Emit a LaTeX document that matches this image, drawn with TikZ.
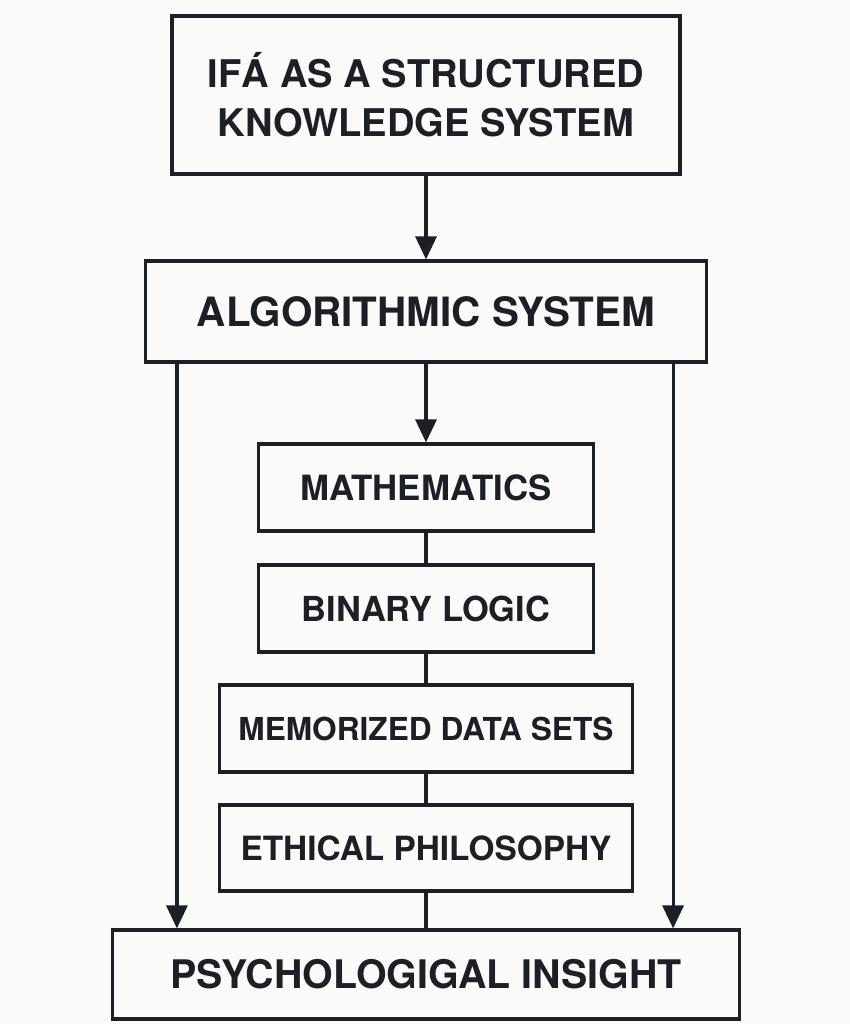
\documentclass[tikz,border=0pt]{standalone}
\usepackage{fontspec}
\setmainfont{TeX Gyre Heros}
\usepackage{xcolor}
\usepackage{tikz}
\usetikzlibrary{shapes,arrows,arrows.meta,positioning}

\definecolor{ink}{RGB}{28,32,38}
\definecolor{paper}{RGB}{250,250,248}

\begin{document}
\begin{tikzpicture}[node distance=2.4cm, line width=1.8pt, draw=ink, text=ink,
        >={Triangle[length=0.46cm,width=0.42cm]}]
        \fill [paper] (0,0) rectangle (17,-20.48);
        \useasboundingbox (0,0) rectangle (17,-20.48);

        % Top Layer
        \node (ifa) at (8.52,-1.9) [draw=ink, rectangle, minimum width=10.16cm, minimum height=3.16cm, align=center, font=\bfseries\fontsize{21.7}{27.8}\selectfont] {IFÁ AS A STRUCTURED\\KNOWLEDGE SYSTEM};

        % Algorithmic Layer
        \node (alg) [below of=ifa, yshift=-1.93cm, draw=ink, rectangle, minimum width=11.22cm, minimum height=2.02cm, font=\bfseries\fontsize{23}{27}\selectfont] {ALGORITHMIC SYSTEM};

        % Components
        \node (math) [below of=alg, yshift=-1.12cm, draw=ink, rectangle, minimum width=6.7cm, minimum height=1.74cm, font=\bfseries\fontsize{19.8}{23}\selectfont] {MATHEMATICS};
        \node (binary) [below of=math, yshift=-0.02cm, draw=ink, rectangle, minimum width=6.7cm, minimum height=1.74cm, font=\bfseries\fontsize{19.6}{23}\selectfont] {BINARY LOGIC};
        \node (memory) [below of=binary, draw=ink, rectangle, minimum width=8.26cm, minimum height=1.74cm, font=\bfseries\fontsize{18}{22}\selectfont] {MEMORIZED DATA SETS};
        \node (ethics) [below of=memory, yshift=0.01cm, draw=ink, rectangle, minimum width=8.26cm, minimum height=1.72cm, font=\bfseries\fontsize{19}{23}\selectfont] {ETHICAL PHILOSOPHY};

        % Outcome
        \node (psych) [below of=ethics, yshift=-0.13cm, draw=ink, rectangle, minimum width=12.54cm, minimum height=1.78cm, font=\bfseries\fontsize{22.4}{26}\selectfont] {PSYCHOLOGIGAL INSIGHT};

        % Arrows
        \draw [->, ink] (ifa) -- (alg);
        \draw [->, ink] (alg) -- (math);
        \draw [ink] (math) -- (binary);
        \draw [ink] (binary) -- (memory);
        \draw [ink] (memory) -- (ethics);
        \draw [ink] (ethics) -- (psych);
        \draw [->, ink] ([xshift=0.66cm]alg.south west) -- ([xshift=0.66cm]alg.south west |- psych.north);
        \draw [->, ink] ([xshift=-0.7cm]alg.south east) -- ([xshift=-0.7cm]alg.south east |- psych.north);
    \end{tikzpicture}
\end{document}
